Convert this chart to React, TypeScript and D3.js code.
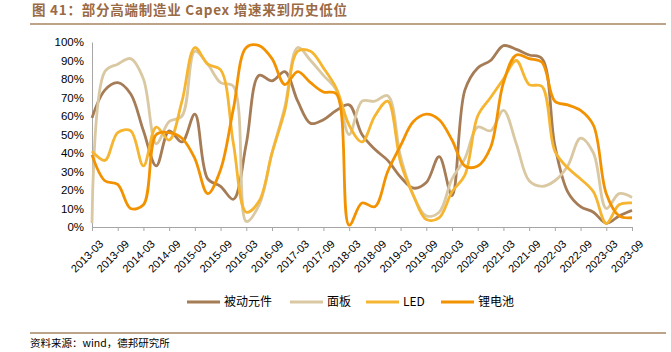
import React, { useEffect, useRef } from "react";
import * as d3 from "d3";

const quarters = [
  "2013-03", "2013-06", "2013-09", "2013-12", "2014-03", "2014-06", "2014-09", "2014-12",
  "2015-03", "2015-06", "2015-09", "2015-12", "2016-03", "2016-06", "2016-09", "2016-12",
  "2017-03", "2017-06", "2017-09", "2017-12", "2018-03", "2018-06", "2018-09", "2018-12",
  "2019-03", "2019-06", "2019-09", "2019-12", "2020-03", "2020-06", "2020-09", "2020-12",
  "2021-03", "2021-06", "2021-09", "2021-12", "2022-03", "2022-06", "2022-09", "2022-12",
  "2023-03", "2023-06", "2023-09",
];

const tickLabels = quarters.filter((q) => q.endsWith("-03") || q.endsWith("-09"));
const yTicks = [0, 10, 20, 30, 40, 50, 60, 70, 80, 90, 100];

// 被动元件
const passive = [
  59, 74, 78, 72, 52, 33, 52, 46, 61, 26, 22, 15, 45, 82, 79, 84, 68, 56, 58, 63, 66, 50,
  42, 36, 27, 21, 24, 38, 17, 74, 86, 90, 98, 96, 93, 91, 44, 19, 11, 8, 2, 6, 9,
];
// 面板
const panel = [
  2, 84, 88, 91, 80, 45, 57, 60, 95, 88, 78, 76, 3, 12, 40, 65, 97, 90, 82, 74, 50, 68,
  68, 71, 38, 17, 6, 8, 26, 37, 54, 52, 63, 45, 25, 22, 25, 33, 48, 40, 10, 18, 16,
];
// LED
const led = [
  41, 36, 51, 52, 33, 54, 47, 68, 97, 88, 85, 45, 8, 14, 40, 63, 95, 95, 86, 75, 55, 46,
  60, 68, 35, 17, 4, 5, 19, 28, 60, 70, 80, 90, 77, 76, 41, 32, 26, 19, 2, 12, 13,
];
// 锂电池
const lithium = [
  39, 25, 23, 10, 12, 50, 51, 48, 37, 18, 31, 64, 97, 98, 91, 77, 84, 78, 73, 72, 1, 13,
  11, 30, 44, 57, 61, 58, 47, 33, 33, 43, 78, 93, 91, 89, 68, 66, 63, 55, 18, 6, 5,
];

const seriesNames = ["被动元件", "面板", "LED", "锂电池"];
const seriesColors = ["#A57C55", "#D9C8A2", "#F6B531", "#F39200"];

const App: React.FC = () => {
  const ref = useRef<SVGSVGElement | null>(null);

  useEffect(() => {
    const svg = d3.select(ref.current);
    svg.selectAll("*").remove();

    const left = 92;
    const right = 632;
    const top = 42;
    const bottom = 227;

    const x = d3.scalePoint().domain(quarters).range([left, right]);
    const y = d3.scaleLinear().domain([0, 100]).range([bottom, top]);

    // title
    svg
      .append("text")
      .attr("x", 32)
      .attr("y", 15)
      .attr("font-family", "Noto Sans CJK SC, sans-serif")
      .attr("font-size", 13.5)
      .attr("font-weight", "bold")
      .attr("fill", "#9A6A45")
      .attr("textLength", 315)
      .attr("lengthAdjust", "spacing")
      .text("图 41：部分高端制造业 Capex 增速来到历史低位");
    svg
      .append("line")
      .attr("x1", 30)
      .attr("x2", 666)
      .attr("y1", 24)
      .attr("y2", 24)
      .attr("stroke", "#A68463")
      .attr("stroke-width", 1.5);

    // y axis
    const yAxis = svg
      .append("g")
      .attr("transform", `translate(${left},0)`)
      .call(
        d3
          .axisLeft(y)
          .tickValues(yTicks)
          .tickSize(0)
          .tickPadding(8)
          .tickFormat((d: any) => `${d}%`)
      );
    yAxis.select(".domain").attr("stroke", "#A6A6A6");
    yAxis
      .selectAll("text")
      .attr("font-family", "Liberation Sans, Arial, sans-serif")
      .attr("font-size", 11.5)
      .attr("fill", "#000");

    // x axis
    const xAxis = svg
      .append("g")
      .attr("transform", `translate(0,${bottom})`)
      .call(d3.axisBottom(x).tickValues(tickLabels).tickSize(4).tickSizeOuter(0));
    xAxis.select(".domain").attr("stroke", "#A6A6A6");
    xAxis.selectAll("line").attr("stroke", "#A6A6A6");
    xAxis
      .selectAll("text")
      .attr("font-family", "Liberation Sans, Arial, sans-serif")
      .attr("font-size", 11)
      .attr("fill", "#000")
      .attr("text-anchor", "end")
      .attr("dy", "0.35em")
      .attr("transform", "translate(4,10) rotate(-45)");

    // lines
    const allSeries = [passive, panel, led, lithium];
    const line = d3
      .line<number>()
      .x((_, i) => x(quarters[i]) as number)
      .y((d) => y(d))
      .curve(d3.curveCatmullRom);

    svg
      .append("g")
      .selectAll("path")
      .data(allSeries)
      .join("path")
      .attr("d", (d) => line(d) as string)
      .attr("fill", "none")
      .attr("stroke", (_, i) => seriesColors[i])
      .attr("stroke-width", 2.8)
      .attr("stroke-linejoin", "round");

    // legend
    const legendX = [187, 290, 366, 441];
    const legend = svg
      .append("g")
      .selectAll("g")
      .data(seriesNames)
      .join("g")
      .attr("transform", (_, i) => `translate(${legendX[i]},302)`);
    legend
      .append("line")
      .attr("x1", 0)
      .attr("x2", 33)
      .attr("stroke", (_, i) => seriesColors[i])
      .attr("stroke-width", 3);
    legend
      .append("text")
      .attr("x", 37)
      .attr("dy", "0.35em")
      .attr("font-family", "Noto Sans CJK SC, sans-serif")
      .attr("font-size", 12)
      .attr("fill", "#000")
      .text((d) => d);

    // source
    svg
      .append("line")
      .attr("x1", 30)
      .attr("x2", 666)
      .attr("y1", 333)
      .attr("y2", 333)
      .attr("stroke", "#A68463")
      .attr("stroke-width", 1.5);
    svg
      .append("text")
      .attr("x", 30)
      .attr("y", 347)
      .attr("font-family", "Noto Sans CJK SC, sans-serif")
      .attr("font-size", 10.5)
      .attr("fill", "#000")
      .text("资料来源：wind，德邦研究所");
  }, []);

  return (
    <svg
      ref={ref}
      width={671}
      height={352}
      style={{ position: "absolute", left: 0, top: 0, background: "#fff" }}
    />
  );
};

export default App;
